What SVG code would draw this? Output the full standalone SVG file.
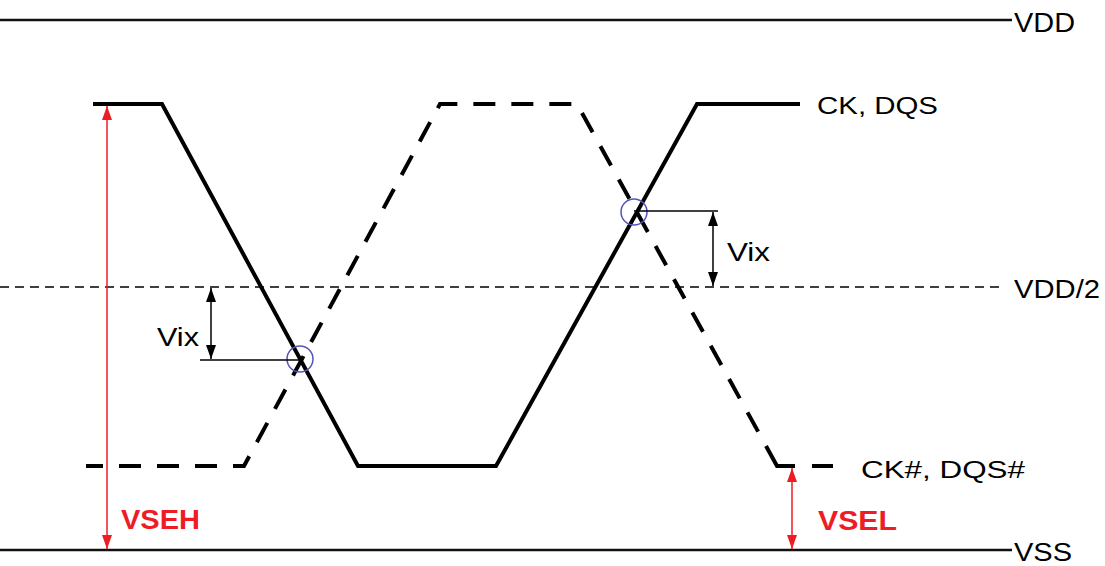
<svg xmlns="http://www.w3.org/2000/svg" width="1105" height="566" viewBox="0 0 1105 566">
<defs>
<style>
.lbl{font-family:"Liberation Sans",Arial,sans-serif;fill:#000}
.red{font-family:"Liberation Sans",Arial,sans-serif;fill:#ee1c25;font-weight:bold}
.rail{stroke:#111;stroke-width:2.5;fill:none}
.sig{stroke:#000;stroke-width:4;fill:none;stroke-linejoin:miter}
.dash{stroke-dasharray:22 16;stroke-dashoffset:5}
.ring{stroke:#5555bb;stroke-width:1.5;fill:none}
.dim{stroke:#000;stroke-width:1.5;fill:none}
.rdim{stroke:#ee1c25;stroke-width:1.5;fill:none}
</style>
<marker id="ab" viewBox="0 0 14 10" refX="14" refY="5" markerWidth="14" markerHeight="10" markerUnits="userSpaceOnUse" orient="auto-start-reverse">
<path d="M0,0 L14,5 L0,10 z" fill="#000"/>
</marker>
<marker id="ar" viewBox="0 0 14 10" refX="14" refY="5" markerWidth="14" markerHeight="10" markerUnits="userSpaceOnUse" orient="auto-start-reverse">
<path d="M0,0 L14,5 L0,10 z" fill="#ee1c25"/>
</marker>
</defs>
<rect width="1105" height="566" fill="#fff"/>
<g id="rails">
<line class="rail" x1="0" y1="20" x2="1012" y2="20"/>
<line x1="0" y1="287" x2="1005" y2="287" stroke="#000" stroke-width="1.5" stroke-dasharray="9 6"/>
<line class="rail" x1="0" y1="550" x2="1012" y2="550"/>
<text class="lbl" x="1014" y="32" font-size="27" textLength="61" lengthAdjust="spacingAndGlyphs">VDD</text>
<text class="lbl" x="1014" y="298" font-size="25" textLength="86" lengthAdjust="spacingAndGlyphs">VDD/2</text>
<text class="lbl" x="1014" y="561" font-size="25" textLength="58" lengthAdjust="spacingAndGlyphs">VSS</text>
</g>
<g id="ck">
<polyline class="sig" points="93,104 162,104 358,466 496,466 697,104 800,104"/>
<text class="lbl" x="817" y="114" font-size="24" textLength="121" lengthAdjust="spacingAndGlyphs">CK, DQS</text>
</g>
<g id="ckn">
<polyline class="sig dash" points="86,466 244,466 440,104 577,104 765,444"/>
<polyline class="sig" points="766,446 777,466 795,466"/>
<line class="sig" x1="812" y1="466" x2="833" y2="466"/>
<text class="lbl" x="861" y="478" font-size="24" textLength="164" lengthAdjust="spacingAndGlyphs">CK#,  DQS#</text>
</g>
<g id="cross1">
<circle class="ring" cx="300" cy="359" r="13"/>
</g>
<g id="cross2">
<circle class="ring" cx="634" cy="212" r="13"/>
</g>
<g id="connectors">
<line class="dim" x1="200" y1="360" x2="300" y2="360"/>
<line class="dim" x1="211" y1="288" x2="211" y2="359" marker-start="url(#ab)" marker-end="url(#ab)"/>
<line class="dim" x1="634" y1="211" x2="718" y2="211"/>
<line class="dim" x1="713" y1="212" x2="713" y2="286" marker-start="url(#ab)" marker-end="url(#ab)"/>
<line class="rdim" x1="107" y1="106" x2="107" y2="549" marker-start="url(#ar)" marker-end="url(#ar)"/>
<line class="rdim" x1="792" y1="468" x2="792" y2="549" marker-start="url(#ar)" marker-end="url(#ar)"/>
</g>
<g id="labels">
<text class="lbl" x="157" y="346" font-size="26" textLength="42" lengthAdjust="spacingAndGlyphs">Vix</text>
<text class="lbl" x="727" y="261" font-size="26" textLength="43" lengthAdjust="spacingAndGlyphs">Vix</text>
<text class="red" x="121" y="529" font-size="28" textLength="79" lengthAdjust="spacingAndGlyphs">VSEH</text>
<text class="red" x="818" y="530" font-size="28" textLength="79" lengthAdjust="spacingAndGlyphs">VSEL</text>
</g>
</svg>
